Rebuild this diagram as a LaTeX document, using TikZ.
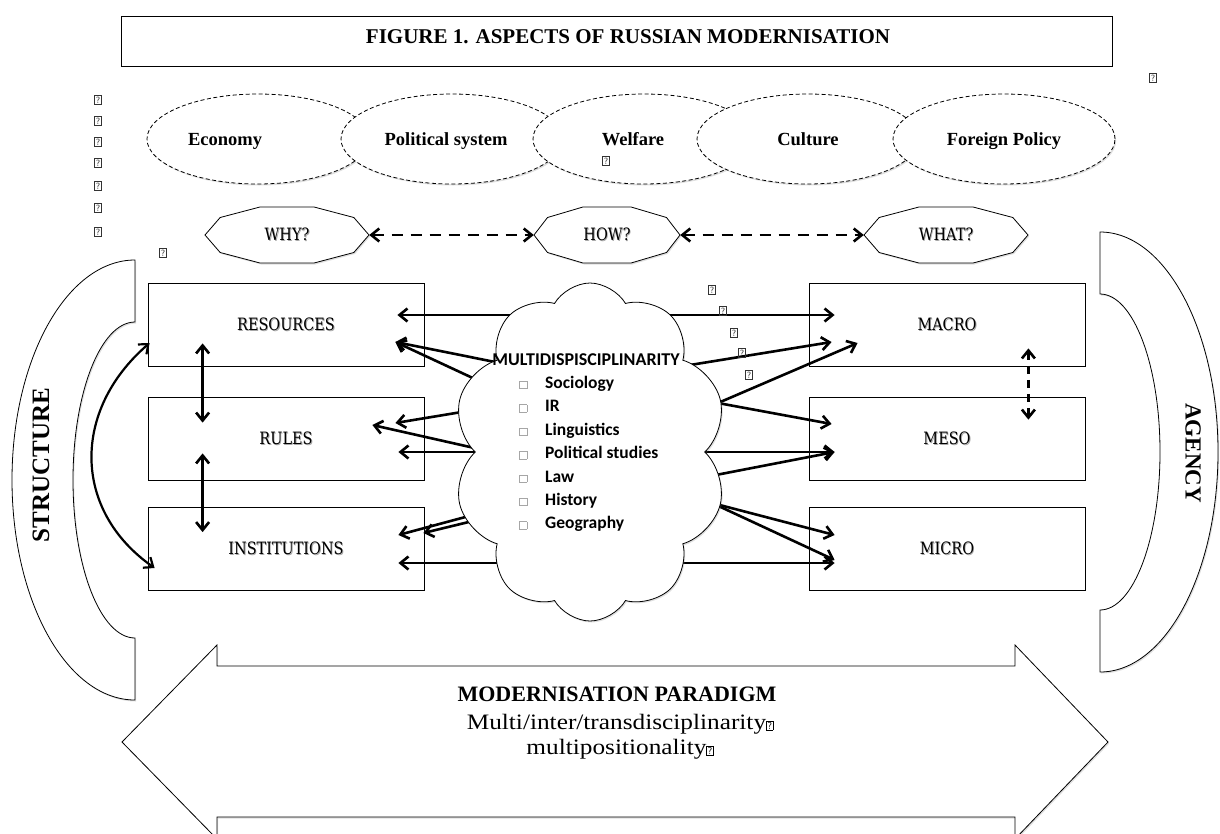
\documentclass[tikz,border=0pt]{standalone}
\usepackage{fontspec}
\setmainfont{Liberation Serif}
\newfontfamily\slab[FakeStretch=0.85]{DejaVu Serif}
\newfontfamily\cam[FakeStretch=1.15]{Liberation Serif}
\newfontfamily\calib{Carlito}
\usetikzlibrary{shapes.geometric,shapes.symbols,arrows.meta,calc,shadows}
\pgfdeclarelayer{bg}
\pgfsetlayers{bg,main}
\newcommand\shd[1]{\leavevmode\rlap{\kern0.9pt\raisebox{-0.9pt}{\textcolor{black!35}{#1}}}#1}
\newcommand\qm{{\setlength\fboxsep{1pt}\setlength\fboxrule{0.5pt}\fbox{\fontsize{9}{9}\selectfont\sffamily ?}}}
\newcommand\qmbig{{\setlength\fboxsep{0.6pt}\setlength\fboxrule{0.6pt}\fbox{\fontsize{10}{10}\selectfont\sffamily ?}}}
\newcommand\bul{{\color{black!35}\setlength\fboxsep{0pt}\setlength\fboxrule{0.5pt}\fbox{\rule{0pt}{7pt}\rule{7pt}{0pt}}}}
\tikzset{
  thinline/.style={draw, line width=0.8pt},
  shade1/.style={drop shadow={opacity=0.25, shadow xshift=1.2pt, shadow yshift=-1.5pt}},
  stepbox/.style={thinline, minimum width=276pt, minimum height=83pt, inner sep=0pt,
     font=\slab\fontsize{17}{17}\selectfont},
  ell/.style={ellipse, draw, dash pattern=on 4pt off 2.5pt, line width=0.8pt, fill=white,
     minimum width=222pt, minimum height=90pt, inner sep=0pt, text height=14pt, text depth=2pt,
     font=\bfseries\fontsize{18.5}{18.5}\selectfont, shade1},
  decashape/.style={thinline, fill=white, shade1},
  decatext/.style={inner sep=0pt, minimum height=56pt, font=\slab\fontsize{17}{17}\selectfont},
  barb/.tip={Straight Barb[length=8pt,width=13pt]},
  arr/.style={line width=2.6pt, -barb},
  darr/.style={line width=2.6pt, barb-barb},
  dsh/.style={dash pattern=on 11pt off 8pt},
  qn/.style={inner sep=0pt, text=black!80},
  bigtext/.style={inner sep=0pt, anchor=base},
}
\newcommand\deca[5]{%
  \draw[decashape] (#2+#4,#3) -- (#2+0.815*#4,#3-17.5) -- (#2+0.33*#4,#3-28) -- (#2-0.33*#4,#3-28)
    -- (#2-0.815*#4,#3-17.5) -- (#2-#4,#3) -- (#2-0.815*#4,#3+17.5) -- (#2-0.33*#4,#3+28)
    -- (#2+0.33*#4,#3+28) -- (#2+0.815*#4,#3+17.5) -- cycle;
  \node[decatext, minimum width={2*#4*1pt}] (#1) at (#2,#3) {\shd{#5}};}
\begin{document}
\begin{tikzpicture}[x=1pt,y=-1pt]
\useasboundingbox (0,0) rectangle (1220,833);
% title
\node[thinline, minimum width=991pt, minimum height=50pt, inner sep=0pt] (tbox) at (616.5,41) {};
\node[bigtext, font=\bfseries\fontsize{21}{21}\selectfont] (title) at (628,43) {FIGURE 1. ASPECTS OF RUSSIAN MODERNISATION};
% big double arrow
\draw[thinline, fill=white, shade1] (122,742) -- (217,645) -- (217,666) -- (1015,666) -- (1015,645) -- (1108,742)
   -- (1015,839) -- (1015,817) -- (217,817) -- (217,839) -- cycle;
\node[bigtext, font=\bfseries\fontsize{22}{22}\selectfont] (mp) at (617,701) {MODERNISATION PARADIGM};
\node[bigtext, font=\cam\fontsize{22}{22}\selectfont] (mp2) at (620,729) {Multi/inter/transdisciplinarity\qmbig};
\node[bigtext, font=\cam\fontsize{22}{22}\selectfont] (mp3) at (620,754) {multipositionality\qmbig};
% structure / agency brackets
\draw[thinline, fill=white, shade1] (135,260) arc[start angle=270, end angle=90, x radius=123, y radius=220]
   -- (135,638) arc[start angle=90, end angle=270, x radius=62, y radius=158] -- cycle;
\node[rotate=90, font=\bfseries\fontsize{25}{25}\selectfont, inner sep=0pt] (structure) at (41,465) {STRUCTURE};
\draw[thinline, fill=white, shade1] (1100,232) arc[start angle=270, end angle=450, x radius=118, y radius=220]
   -- (1100,610) arc[start angle=90, end angle=-90, x radius=60, y radius=158] -- cycle;
\node[rotate=-90, font=\bfseries\fontsize{23}{23}\selectfont, inner sep=0pt] (agency) at (1193,453) {AGENCY};
% ellipses
\node[ell] (eco) at (258,139) {Economy\hspace{66pt}\null};
\node[ell] (pol) at (452,139) {Political system\hspace{12pt}\null};
\node[ell] (wel) at (644,139) {Welfare\hspace{22pt}\null};
\node[qn] (qw) at (606,161) {\qm};
\node[ell] (cul) at (808,139) {Culture};
\node[ell] (for) at (1004,139) {Foreign Policy};
% decagons
\deca{why}{287}{235}{82}{WHY?}
\deca{how}{607}{235}{73}{HOW?}
\deca{what}{946}{235}{82}{WHAT?}
\draw[darr, dsh] (why.east) -- (how.west);
\draw[darr, dsh] (how.east) -- (what.west);
% boxes
\node[stepbox] (res) at (286,324.5) {\shd{RESOURCES}};
\node[stepbox] (rul) at (286,438.5) {\shd{RULES}};
\node[stepbox] (ins) at (286,549) {\shd{INSTITUTIONS}};
\node[stepbox] (mac) at (947,324.5) {\shd{MACRO}};
\node[stepbox] (mes) at (947,438.5) {\shd{MESO}};
\node[stepbox] (mic) at (947,549) {\shd{MICRO}};
% left column arrows
\draw[darr] ($(res.south west)+(55,-23)$) -- ($(rul.north west)+(55,26)$);
\draw[darr] ($(rul.south west)+(55,-27)$) -- ($(ins.north west)+(55,25)$);
\draw[darr, line width=2.2pt] ($(res.west)+(2,18.5)$) .. controls (72,410) and (72,510) .. ($(ins.west)+(7,19)$);
\draw[darr, dash pattern=on 8pt off 6pt] ($(mac.south east)+(-57,-18)$) -- ($(mes.north east)+(-57,23)$);
% cloud
\node[cloud, cloud puffs=10, cloud puff arc=120, cloud ignores aspect, thinline, fill=white, shade1,
      minimum width=274pt, minimum height=338pt] (cl) at (590,452) {};
\node[bigtext, font=\calib\bfseries\fontsize{18}{18}\selectfont] (mh) at (586,365) {MULTIDISPISCIPLINARITY};
\node[anchor=north west, inner sep=0pt, align=left, font=\calib\bfseries\fontsize{17.5}{23.4}\selectfont] (lst) at (519,376)
  {\bul\hspace{18pt}Sociology\\ \bul\hspace{18pt}IR\\ \bul\hspace{18pt}Linguistics\\ \bul\hspace{18pt}Political studies\\
   \bul\hspace{18pt}Law\\ \bul\hspace{18pt}History\\ \bul\hspace{18pt}Geography};
\begin{pgfonlayer}{bg}
  \coordinate (C) at (cl.center);
  % to the left
  \draw[darr] ($(res.east)+(-27,-9.5)$) -- ($(mac.west)+(26,-9.5)$);
  \draw[arr] ($(C)+(-70,-85)$) -- ($(res.east)+(-29,17.5)$);
  \draw[arr] ($(C)+(-70,-52)$) -- ($(res.east)+(-29,17.5)$);
  \draw[arr] ($(C)+(-80,-48)$) -- ($(rul.east)+(-29,-15.5)$);
  \draw[arr] ($(C)+(-80,4)$) -- ($(rul.east)+(-52,-13.5)$);
  \draw[arr] ($(C)+(-80,0)$) -- ($(rul.east)+(-26,13.5)$);
  \draw[arr] ($(C)+(-80,53)$) -- ($(ins.east)+(-26,-14)$);
  \draw[arr] ($(C)+(-80,60)$) -- ($(ins.east)+(-1,-16)$);
  \draw[darr] ($(ins.east)+(-26,14)$) -- ($(mic.west)+(26,14)$);
  % to the right
  \draw[arr] ($(C)+(100,-87)$) -- ($(mac.west)+(23,17.5)$);
  \draw[arr] ($(C)+(128,-49)$) -- ($(mac.west)+(49,18.5)$);
  \draw[arr] ($(C)+(128,-49)$) -- ($(mes.west)+(23,-14.5)$);
  \draw[arr] ($(C)+(100,0)$) -- ($(mes.west)+(26,13.5)$);
  \draw[arr] ($(C)+(100,28)$) -- ($(mes.west)+(26,13.5)$);
  \draw[arr] ($(C)+(122,51)$) -- ($(mic.west)+(26,-14)$);
  \draw[arr] ($(C)+(122,51)$) -- ($(mic.west)+(26,11)$);
\end{pgfonlayer}
% placeholder glyph boxes
\foreach \yy [count=\i] in {100,121,142,163,186,208,232} {\node[qn] (ql\i) at (98,\yy) {\qm};}
\node[qn] (qa) at (163,253) {\qm};
\node[qn] (qb) at (1153,78) {\qm};
\node[qn] (qc1) at (712,290) {\qm};
\node[qn] (qc2) at (723,311) {\qm};
\node[qn] (qc3) at (734,333) {\qm};
\node[qn] (qc4) at (742,353) {\qm};
\node[qn] (qc5) at (749,375) {\qm};
\end{tikzpicture}
\end{document}
